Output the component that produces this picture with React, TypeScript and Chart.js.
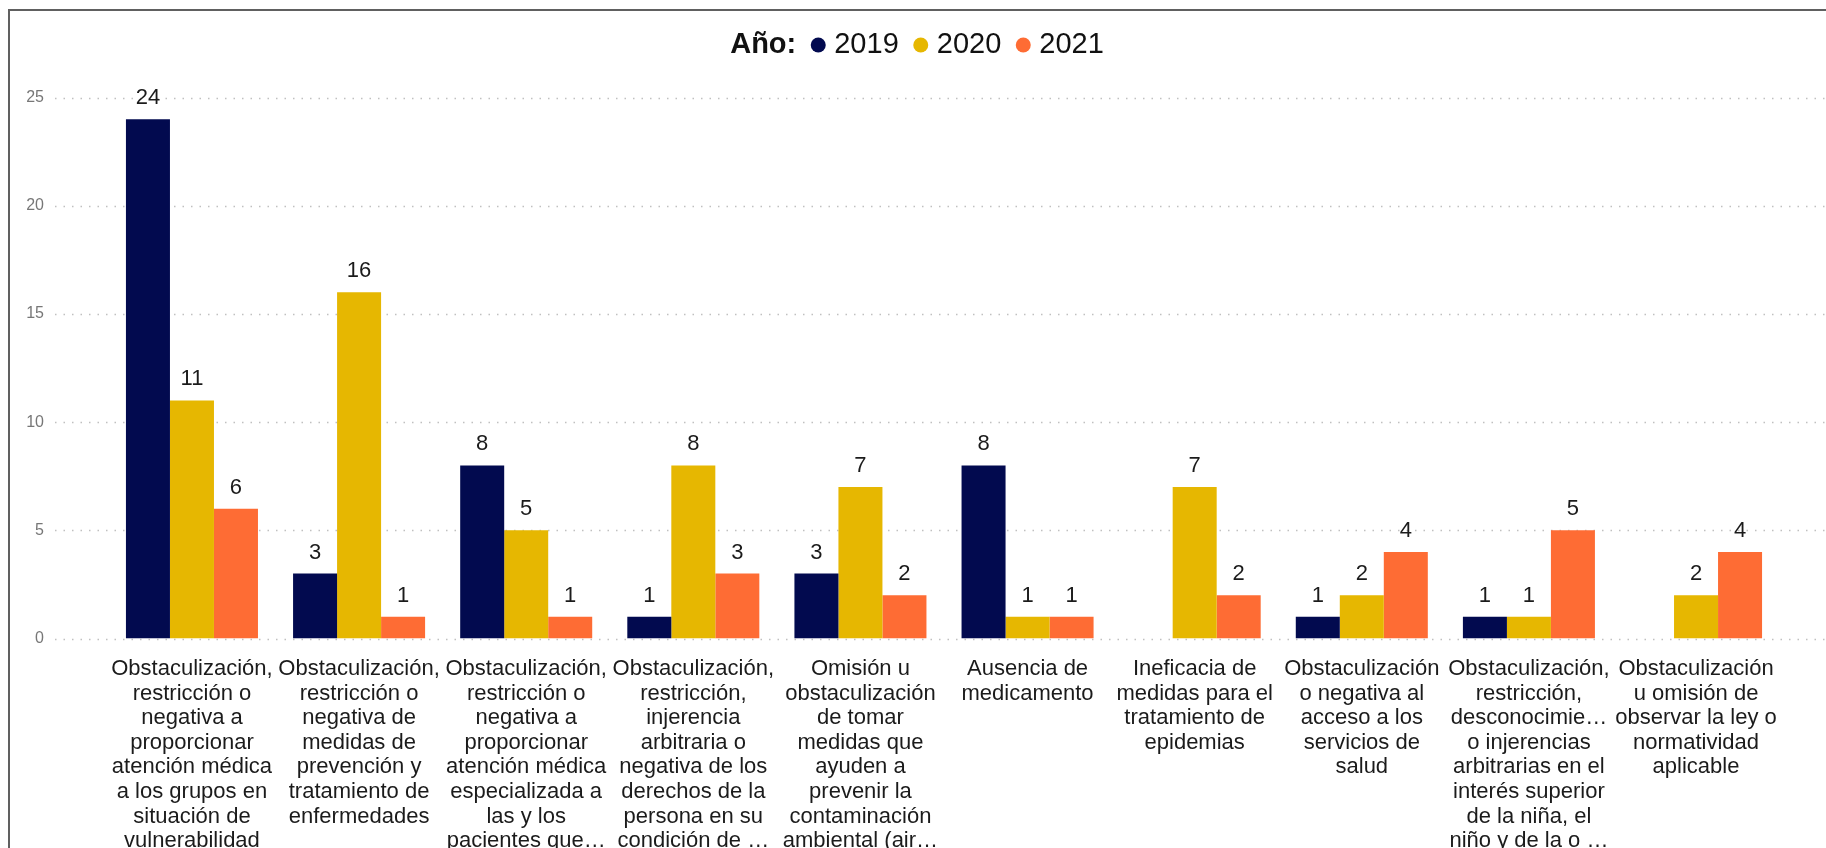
import React, { useEffect, useRef } from 'react';
import { Chart, registerables } from 'chart.js';

Chart.register(...registerables);

const categories: string[][] = [
  ['Obstaculización,', 'restricción o', 'negativa a', 'proporcionar', 'atención médica', 'a los grupos en', 'situación de', 'vulnerabilidad'],
  ['Obstaculización,', 'restricción o', 'negativa de', 'medidas de', 'prevención y', 'tratamiento de', 'enfermedades'],
  ['Obstaculización,', 'restricción o', 'negativa a', 'proporcionar', 'atención médica', 'especializada a', 'las y los', 'pacientes que…'],
  ['Obstaculización,', 'restricción,', 'injerencia', 'arbitraria o', 'negativa de los', 'derechos de la', 'persona en su', 'condición de …'],
  ['Omisión u', 'obstaculización', 'de tomar', 'medidas que', 'ayuden a', 'prevenir la', 'contaminación', 'ambiental (air…'],
  ['Ausencia de', 'medicamento'],
  ['Ineficacia de', 'medidas para el', 'tratamiento de', 'epidemias'],
  ['Obstaculización', 'o negativa al', 'acceso a los', 'servicios de', 'salud'],
  ['Obstaculización,', 'restricción,', 'desconocimie…', 'o injerencias', 'arbitrarias en el', 'interés superior', 'de la niña, el', 'niño y de la o …'],
  ['Obstaculización', 'u omisión de', 'observar la ley o', 'normatividad', 'aplicable'],
];

const years = ['2019', '2020', '2021'];
const values2019 = [24, 3, 8, 1, 3, 8, null, 1, 1, null];
const values2020 = [11, 16, 5, 8, 7, 1, 7, 2, 1, 2];
const values2021 = [6, 1, 1, 3, 2, 1, 2, 4, 5, 4];
const yTicks = [0, 5, 10, 15, 20, 25];
const legendTitle = 'Año:';
const seriesColors = ['#020A4F', '#E6B701', '#FE6C34'];

const W = 1826;
const H = 848;
const FONT = "'Liberation Sans', Arial, sans-serif";

const framePlugin = {
  id: 'frame',
  beforeDraw(chart: any) {
    const ctx = chart.ctx;
    ctx.save();
    ctx.fillStyle = '#ffffff';
    ctx.fillRect(0, 0, chart.width, chart.height);
    ctx.strokeStyle = '#606060';
    ctx.lineWidth = 2;
    ctx.strokeRect(9, 10, chart.width + 20, chart.height + 20);
    ctx.restore();
  },
};

const gridPlugin = {
  id: 'dottedGrid',
  beforeDatasetsDraw(chart: any) {
    const ctx = chart.ctx;
    const y = chart.scales.y;
    ctx.save();
    ctx.strokeStyle = '#c0c0c0';
    ctx.lineWidth = 1.5;
    ctx.setLineDash([1.5, 7]);
    y.ticks.forEach((t: any) => {
      const py = Math.round(y.getPixelForValue(t.value)) + 0.5;
      ctx.beginPath();
      ctx.moveTo(55, py);
      ctx.lineTo(chart.width, py);
      ctx.stroke();
    });
    ctx.restore();
  },
};

const labelPlugin = {
  id: 'barLabels',
  afterDatasetsDraw(chart: any) {
    const ctx = chart.ctx;
    ctx.save();
    ctx.fillStyle = '#1b1b1b';
    ctx.font = `22px ${FONT}`;
    ctx.textAlign = 'center';
    ctx.textBaseline = 'alphabetic';
    chart.data.datasets.forEach((ds: any, i: number) => {
      const meta = chart.getDatasetMeta(i);
      meta.data.forEach((bar: any, j: number) => {
        const v = ds.data[j];
        if (v === null || v === undefined) return;
        ctx.fillText(String(v), bar.x, bar.y - 15);
      });
    });
    ctx.restore();
  },
};

const legendPlugin = {
  id: 'topLegend',
  afterDraw(chart: any) {
    const ctx = chart.ctx;
    ctx.save();
    const baseline = 53;
    ctx.textBaseline = 'alphabetic';
    ctx.textAlign = 'left';
    ctx.font = `bold 29px ${FONT}`;
    const titleW = ctx.measureText(legendTitle).width;
    ctx.font = `29px ${FONT}`;
    const items = chart.data.datasets.map((d: any) => ({ label: d.label, color: d.backgroundColor, w: ctx.measureText(d.label).width }));
    const gapTitle = 22;
    const dotToText = 16;
    const gapItem = 22;
    let total = titleW + gapTitle;
    items.forEach((it: any, i: number) => {
      total += dotToText + it.w + (i < items.length - 1 ? gapItem : 0);
    });
    let x = 917 - total / 2;
    ctx.fillStyle = '#111111';
    ctx.font = `bold 29px ${FONT}`;
    ctx.fillText(legendTitle, x, baseline);
    x += titleW + gapTitle;
    ctx.font = `29px ${FONT}`;
    items.forEach((it: any) => {
      ctx.fillStyle = it.color;
      ctx.beginPath();
      ctx.arc(x, 45, 7.5, 0, Math.PI * 2);
      ctx.fill();
      ctx.fillStyle = '#111111';
      ctx.fillText(it.label, x + dotToText, baseline);
      x += dotToText + it.w + gapItem;
    });
    ctx.restore();
  },
};

export default function App() {
  const ref = useRef<HTMLCanvasElement | null>(null);

  useEffect(() => {
    if (!ref.current) return;
    const chart = new Chart(ref.current, {
      type: 'bar',
      data: {
        labels: categories,
        datasets: [
          { label: years[0], data: values2019, backgroundColor: seriesColors[0] },
          { label: years[1], data: values2020, backgroundColor: seriesColors[1] },
          { label: years[2], data: values2021, backgroundColor: seriesColors[2] },
        ],
      },
      options: {
        responsive: false,
        animation: false,
        devicePixelRatio: 1,
        layout: { padding: { top: 97.5, right: 46.4, left: 0, bottom: 0 } },
        datasets: {
          bar: { categoryPercentage: 0.79, barPercentage: 1.0, borderWidth: 0 },
        },
        plugins: {
          legend: { display: false },
          tooltip: { enabled: false },
          title: { display: false },
        },
        scales: {
          x: {
            grid: { display: false, drawTicks: false },
            border: { display: false },
            ticks: {
              autoSkip: false,
              maxRotation: 0,
              minRotation: 0,
              padding: 18,
              color: '#1b1b1b',
              font: { family: FONT, size: 22, lineHeight: 1.12 },
            },
            afterFit: (scale: any) => {
              scale.height = 209.5;
            },
          },
          y: {
            min: 0,
            max: 25,
            afterBuildTicks: (scale: any) => {
              scale.ticks = yTicks.map((v) => ({ value: v }));
            },
            grid: { display: false, drawTicks: false },
            border: { display: false },
            ticks: {
              padding: 64.4,
              color: '#777777',
              font: { family: FONT, size: 16 },
            },
            afterFit: (scale: any) => {
              scale.width = 108.4;
            },
          },
        },
      },
      plugins: [framePlugin, gridPlugin, labelPlugin, legendPlugin],
    } as any);
    return () => chart.destroy();
  }, []);

  return (
    <div style={{ position: 'absolute', left: 0, top: 0, width: W, height: H, background: '#fff' }}>
      <canvas ref={ref} width={W} height={H} style={{ display: 'block', width: W, height: H }} />
    </div>
  );
}
